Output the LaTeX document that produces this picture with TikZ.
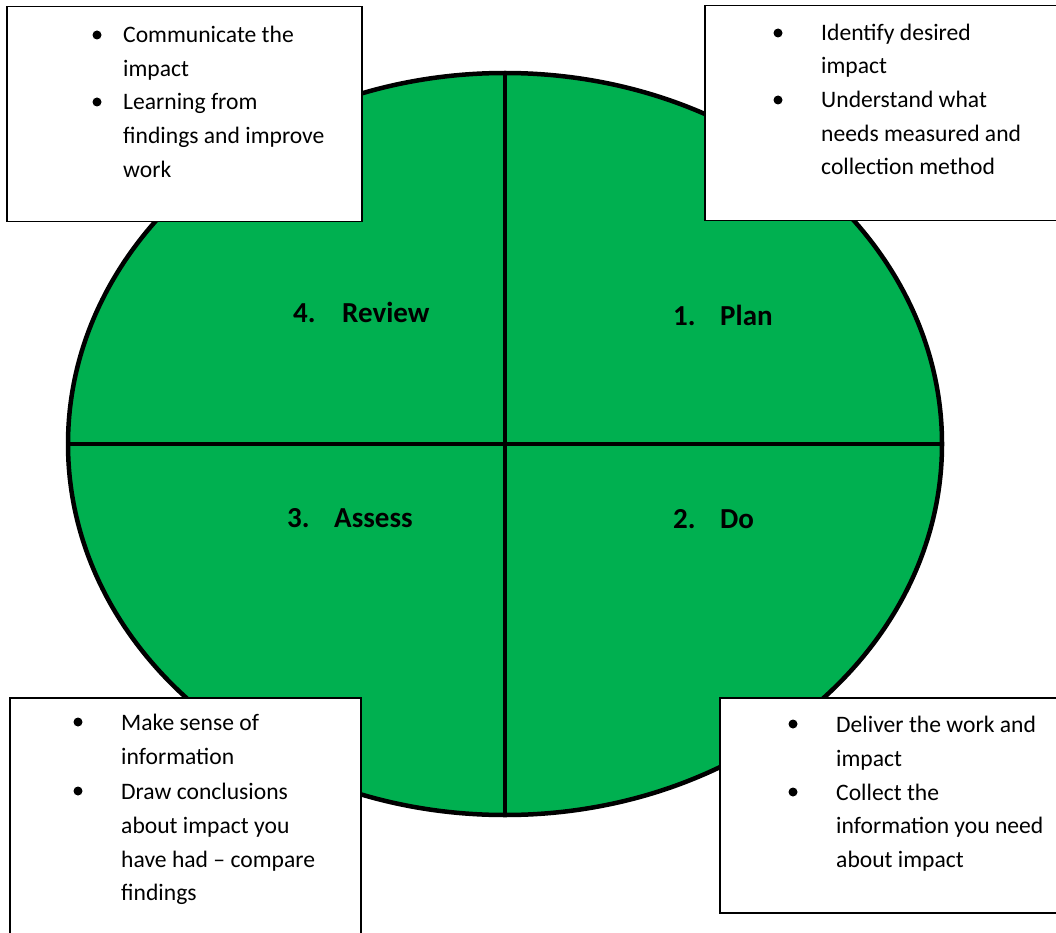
\documentclass[tikz,border=0pt]{standalone}
\usepackage{fontspec}
\setmainfont{Carlito}
\usetikzlibrary{shapes.geometric}
\definecolor{cgreen}{HTML}{00B050}
\tikzset{
  box/.style={draw=black, line width=1.5pt, fill=white, inner sep=0pt, anchor=north west},
  txt/.style={anchor=base west, inner sep=0pt, font=\fontsize{23.6}{28}\selectfont},
  lbl/.style={anchor=base west, inner sep=0pt, font=\fontsize{29}{34}\selectfont\bfseries},
  dot/.style={circle, fill=black, inner sep=0pt, minimum size=9pt},
  divider/.style={line width=4pt}
}
\begin{document}
\begin{tikzpicture}[x=1pt,y=-1pt]
\useasboundingbox (0,0) rectangle (1056,933);
\clip (0,0) rectangle (1056,933);
% disc
\node[ellipse, draw=black, fill=cgreen, line width=4.5pt, minimum width=874pt, minimum height=742pt, inner sep=0pt] (disc) at (505,444) {};
\draw[divider] (disc.north) -- (disc.south);
\draw[divider] (disc.west) -- (disc.east);
% labels
\node[lbl] (n4) at (293,322) {4.};
\node[lbl] (review) at (342,322) {Review};
\node[lbl] (n1) at (673,325) {1.};
\node[lbl] (plan) at (720,325) {Plan};
\node[lbl] (n3) at (287,527) {3.};
\node[lbl] (assess) at (334,527) {Assess};
\node[lbl] (n2) at (673,528) {2.};
\node[lbl] (do) at (720,528) {Do};
% boxes
\node[box, minimum width=355pt, minimum height=215pt] (tlbox) at (6,6) {};
\node[box, minimum width=360pt, minimum height=215pt] (trbox) at (704,5) {};
\node[box, minimum width=351pt, minimum height=250pt] (blbox) at (9,697) {};
\node[box, minimum width=345pt, minimum height=215pt] (brbox) at (719,697) {};
% top-left text
\node[dot] (tlb1) at (97,35) {};
\node[dot] (tlb2) at (97,102) {};
\node[txt] (tl1) at (123,43) {Communicate the};
\node[txt] (tl2) at (123,77) {impact};
\node[txt] (tl3) at (123,110) {Learning from};
\node[txt] (tl4) at (123,144) {findings and improve};
\node[txt] (tl5) at (123,178) {work};
% top-right text
\node[dot] (trb1) at (778,33) {};
\node[dot] (trb2) at (778,100) {};
\node[txt] (tr1) at (821,41) {Identify desired};
\node[txt] (tr2) at (821,74) {impact};
\node[txt] (tr3) at (821,108) {Understand what};
\node[txt] (tr4) at (821,142) {needs measured and};
\node[txt] (tr5) at (821,175) {collection method};
% bottom-left text
\node[dot] (blb1) at (78,722) {};
\node[dot] (blb2) at (78,791) {};
\node[txt] (bl1) at (121,730) {Make sense of};
\node[txt] (bl2) at (121,764) {information};
\node[txt] (bl3) at (121,799) {Draw conclusions};
\node[txt] (bl4) at (121,833) {about impact you};
\node[txt] (bl5) at (121,867) {have had – compare};
\node[txt] (bl6) at (121,900) {findings};
% bottom-right text
\node[dot] (brb1) at (793,724) {};
\node[dot] (brb2) at (793,792) {};
\node[txt] (br1) at (836,732) {Deliver the work and};
\node[txt] (br2) at (836,766) {impact};
\node[txt] (br3) at (836,800) {Collect the};
\node[txt] (br4) at (836,833) {information you need};
\node[txt] (br5) at (836,867) {about impact};
\end{tikzpicture}
\end{document}
